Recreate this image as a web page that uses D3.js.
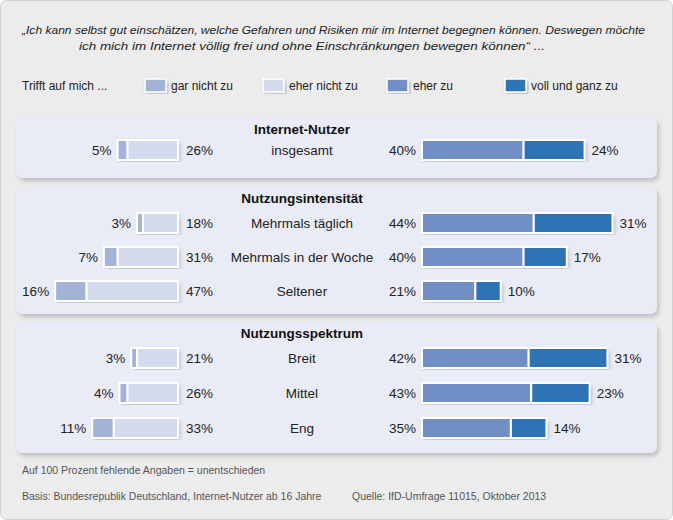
<!DOCTYPE html>
<html><head><meta charset="utf-8">
<script src="https://cdn.jsdelivr.net/npm/d3@7"></script>
<style>body{margin:0;background:#fff}svg{font-family:"Liberation Sans",Arial,sans-serif}</style>
</head><body><div id="main"></div>
<script>
// data
const groups = ['Internet-Nutzer', 'Nutzungsintensität', 'Nutzungsspektrum'];
const rowLabels = ['insgesamt', 'Mehrmals täglich', 'Mehrmals in der Woche', 'Seltener', 'Breit', 'Mittel', 'Eng'];
const garNicht = [5, 3, 7, 16, 3, 4, 11];
const eherNicht = [26, 18, 31, 47, 21, 26, 33];
const eherZu = [40, 44, 40, 21, 42, 43, 35];
const vollGanz = [24, 31, 17, 10, 31, 23, 14];
const legendLabels = ['gar nicht zu', 'eher nicht zu', 'eher zu', 'voll und ganz zu'];
const colors = ['#a3b3d8', '#d5dbee', '#6f8fc5', '#2e74b5'];

const W = 673, H = 520;
const svg = d3.select('#main').append('svg').attr('width', W).attr('height', H);
const defs = svg.append('defs');
defs.append('filter').attr('id', 'sh').html('<feDropShadow dx="2" dy="3" stdDeviation="2" flood-color="#000" flood-opacity="0.2"/>');

svg.append('rect').attr('x', 0.5).attr('y', 0.5).attr('width', W - 1).attr('height', H - 1)
  .attr('rx', 6).attr('fill', '#ececec').attr('stroke', '#d0d0d0');

svg.append('text').attr('x', 22).attr('y', 34).attr('font-size', 11.5)
  .attr('textLength', 623).attr('lengthAdjust', 'spacingAndGlyphs')
  .attr('font-style', 'italic').attr('fill', '#222')
  .text('„Ich kann selbst gut einschätzen, welche Gefahren und Risiken mir im Internet begegnen können. Deswegen möchte');
svg.append('text').attr('x', 79).attr('y', 50).attr('font-size', 11.5)
  .attr('textLength', 466).attr('lengthAdjust', 'spacingAndGlyphs')
  .attr('font-style', 'italic').attr('fill', '#222')
  .text('ich mich im Internet völlig frei und ohne Einschränkungen bewegen können“ ...');

// legend
svg.append('text').attr('x', 22).attr('y', 90).attr('font-size', 12).attr('fill', '#222').text('Trifft auf mich ...');
const legX = [145, 263, 387, 505];
legendLabels.forEach((l, i) => {
  svg.append('rect').attr('x', legX[i]).attr('y', 79).attr('width', 21).attr('height', 13)
    .attr('fill', colors[i]).attr('stroke', '#fff').attr('stroke-width', 1.5).attr('filter', 'url(#sh)');
  svg.append('text').attr('x', legX[i] + 26).attr('y', 90).attr('font-size', 12).attr('fill', '#222').text(l);
});

// panels
const panels = [[117, 178], [187, 314], [322, 453]];
const headerY = [134, 203, 338];
panels.forEach(([y0, y1], i) => {
  svg.append('rect').attr('x', 16).attr('y', y0).attr('width', 641).attr('height', y1 - y0)
    .attr('rx', 7).attr('fill', '#e9ecf6').attr('filter', 'url(#sh)');
  svg.append('text').attr('x', 302).attr('y', headerY[i]).attr('text-anchor', 'middle')
    .attr('font-size', 13.5).attr('font-weight', 'bold').attr('fill', '#111').text(groups[i]);
});

const rowY = [150, 223, 257, 291, 358, 393, 428];
const xl = d3.scaleLinear().domain([0, 100]).range([178, 178 - 195]);
const xr = d3.scaleLinear().domain([0, 100]).range([422, 422 + 254]);
const bh = 20;
const g = svg.append('g').attr('font-size', 13.5).attr('fill', '#222');

rowLabels.forEach((lab, i) => {
  const y = rowY[i];
  g.append('text').attr('x', 302).attr('y', y + 5).attr('text-anchor', 'middle').text(lab);
  const segs = [
    [xl(eherNicht[i]), xl(0), colors[1]],
    [xl(eherNicht[i] + garNicht[i]), xl(eherNicht[i]), colors[0]],
    [xr(0), xr(eherZu[i]), colors[2]],
    [xr(eherZu[i]), xr(eherZu[i] + vollGanz[i]), colors[3]]
  ];
  [[segs[1][0], segs[0][1]], [segs[2][0], segs[3][1]]].forEach(([a, b]) => {
    g.append('rect').attr('x', a).attr('y', y - bh / 2).attr('width', b - a).attr('height', bh)
      .attr('fill', '#fff').attr('filter', 'url(#sh)');
  });
  segs.forEach(([a, b, c]) => {
    g.append('rect').attr('x', a).attr('y', y - bh / 2).attr('width', b - a).attr('height', bh)
      .attr('fill', c).attr('stroke', '#fff').attr('stroke-width', 2);
  });
  g.append('text').attr('x', segs[1][0] - 6).attr('y', y + 5).attr('text-anchor', 'end').text(garNicht[i] + '%');
  g.append('text').attr('x', xl(0) + 8).attr('y', y + 5).text(eherNicht[i] + '%');
  g.append('text').attr('x', xr(0) - 6).attr('y', y + 5).attr('text-anchor', 'end').text(eherZu[i] + '%');
  g.append('text').attr('x', segs[3][1] + 7).attr('y', y + 5).text(vollGanz[i] + '%');
});

// footer
const foot = svg.append('g').attr('font-size', 10.5).attr('fill', '#555');
foot.append('text').attr('x', 22).attr('y', 474).text('Auf 100 Prozent fehlende Angaben = unentschieden');
foot.append('text').attr('x', 22).attr('y', 500).text('Basis: Bundesrepublik Deutschland, Internet-Nutzer ab 16 Jahre');
foot.append('text').attr('x', 352).attr('y', 500).text('Quelle: IfD-Umfrage 11015, Oktober 2013');
</script></body></html>
